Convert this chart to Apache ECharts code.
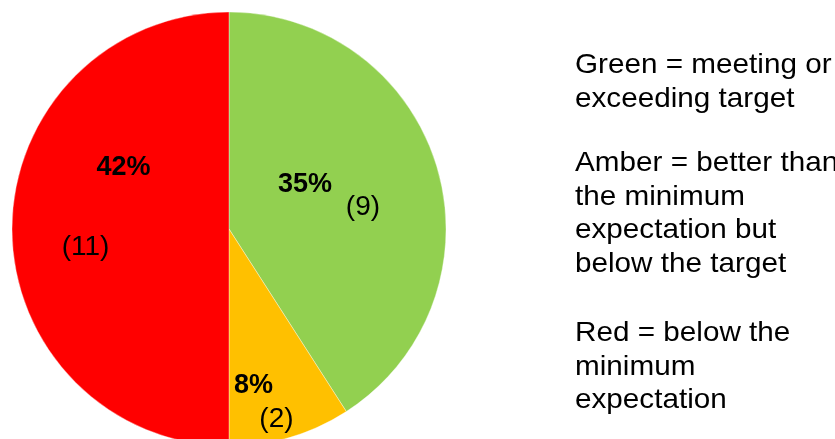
<!DOCTYPE html>
<html>
<head>
<meta charset="utf-8">
<script src="https://cdn.jsdelivr.net/npm/echarts@6/dist/echarts.min.js"></script>
<style>
html,body{margin:0;padding:0;background:#fff;}
#chart{width:835px;height:439px;}
</style>
</head>
<body>
<div id="chart"></div>
<script>
// ---- data ----
const categories = ['Green', 'Amber', 'Red'];
const counts = [9, 2, 11];
const percentLabels = ['35%', '8%', '42%'];
const colors = ['#92D050', '#FFC000', '#FF0000'];
const legendParagraphs = [
  'Green = meeting or\nexceeding target',
  'Amber = better than\nthe minimum\nexpectation but\nbelow the target',
  'Red = below the\nminimum\nexpectation'
];

// label nudges relative to the library's 'inside' label position
const pctNudge = [[-31, -13], [-7, 50], [6, -61]];
const cntNudge = [[27, 10], [16, 83], [-32, 18]];

const font = 'Liberation Sans, Arial, Helvetica, sans-serif';

const pieData = categories.map((c, i) => ({
  name: c,
  value: counts[i],
  itemStyle: { color: colors[i] }
}));

const chart = echarts.init(document.getElementById('chart'), null, { renderer: 'canvas' });

const common = {
  type: 'pie',
  center: [229, 229],
  radius: [0, 217],
  startAngle: 90,
  clockwise: true,
  animation: false,
  silent: true,
  labelLine: { show: false },
  emphasis: { disabled: true }
};

chart.setOption({
  backgroundColor: '#ffffff',
  animation: false,
  series: [
    Object.assign({}, common, {
      name: 'pct',
      data: pieData,
      itemStyle: { borderColor: 'rgba(255,255,255,0.6)', borderWidth: 0.6 },
      label: {
        show: true,
        position: 'inside',
        formatter: p => percentLabels[p.dataIndex],
        fontFamily: font,
        fontWeight: 'bold',
        fontSize: 27,
        color: '#000'
      },
      labelLayout: p => ({ dx: pctNudge[p.dataIndex][0], dy: pctNudge[p.dataIndex][1] })
    }),
    Object.assign({}, common, {
      name: 'cnt',
      data: categories.map((c, i) => ({ name: c, value: counts[i] })),
      itemStyle: { color: 'rgba(0,0,0,0)' },
      label: {
        show: true,
        position: 'inside',
        formatter: p => '(' + p.value + ')',
        fontFamily: font,
        fontWeight: 'normal',
        fontSize: 28,
        color: '#000'
      },
      labelLayout: p => ({ dx: cntNudge[p.dataIndex][0], dy: cntNudge[p.dataIndex][1] })
    })
  ],
  graphic: legendParagraphs.map((t, i) => ({
    type: 'text',
    x: 575,
    y: [49, 147, 317][i],
    scaleX: 1.06,
    silent: true,
    style: {
      text: t,
      x: 0,
      y: 0,
      fill: '#000',
      fontFamily: font,
      fontSize: 28,
      lineHeight: 33.5,
      align: 'left',
      verticalAlign: 'top'
    }
  }))
});
</script>
</body>
</html>
